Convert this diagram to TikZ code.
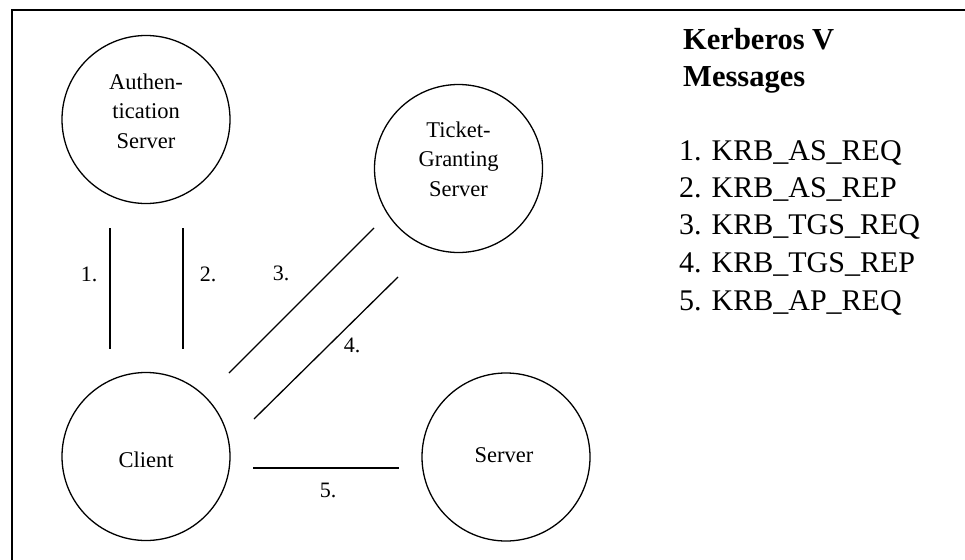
\documentclass[tikz,border=0pt]{standalone}
\usepackage{fontspec}
\setmainfont{Liberation Serif}
\begin{document}
\begin{tikzpicture}[x=1pt,y=-1pt,
  srv/.style={draw,circle,line width=1.3pt,minimum size=168pt,inner sep=0pt},
  srvtext/.style={align=center,inner sep=0pt,font=\fontsize{22.5}{29.5}\selectfont},
  msg/.style={line width=1.3pt},
  num/.style={inner sep=0pt,font=\fontsize{22}{26}\selectfont},
  legend/.style={anchor=base west,inner sep=0pt,font=\fontsize{30}{36}\selectfont},
  title/.style={anchor=base west,inner sep=0pt,font=\fontsize{30.5}{36}\selectfont\bfseries}]
\useasboundingbox (0,0) rectangle (965,559);
% frame
\coordinate (fbl) at (12,560);
\coordinate (ftl) at (12,10);
\coordinate (ftr) at (966,10);
\draw[line width=1.5pt] (fbl) -- (ftl) -- (ftr);
% servers
\node[srv] (as) at (146,119.5) {};
\node[srvtext] (astext) at (146,111) {Authen-\\tication\\Server};
\node[srv] (tgs) at (458.5,168.5) {};
\node[srvtext] (tgstext) at (458.5,159) {Ticket-\\Granting\\Server};
\node[srv] (client) at (146,456.5) {};
\node[srvtext] (clienttext) at (146,460) {Client};
\node[srv] (server) at (506,457) {};
\node[srvtext] (servertext) at (504,455) {Server};
% message lines
\coordinate (m1a) at (110,228); \coordinate (m1b) at (110,349);
\coordinate (m2a) at (183,228); \coordinate (m2b) at (183,349);
\coordinate (m3a) at (229,373); \coordinate (m3b) at (374,228);
\coordinate (m4a) at (254,419); \coordinate (m4b) at (398,277);
\coordinate (m5a) at (253,468); \coordinate (m5b) at (399,468);
\draw[msg] (m1a) -- (m1b);
\draw[msg] (m2a) -- (m2b);
\draw[msg] (m3a) -- (m3b);
\draw[msg] (m4a) -- (m4b);
\draw[msg] (m5a) -- (m5b);
\node[num] (n1) at (89,274) {1.};
\node[num] (n2) at (208,274) {2.};
\node[num] (n3) at (281,273) {3.};
\node[num] (n4) at (352,345) {4.};
\node[num] (n5) at (328,490) {5.};
% legend
\node[title] (t1) at (683,50) {Kerberos V};
\node[title] (t2) at (683,87) {Messages};
\node[legend] (l1) at (679,160) {1. KRB\_AS\_REQ};
\node[legend] (l2) at (679,197) {2. KRB\_AS\_REP};
\node[legend] (l3) at (679,234) {3. KRB\_TGS\_REQ};
\node[legend] (l4) at (679,272) {4. KRB\_TGS\_REP};
\node[legend] (l5) at (679,310) {5. KRB\_AP\_REQ};
\end{tikzpicture}
\end{document}
